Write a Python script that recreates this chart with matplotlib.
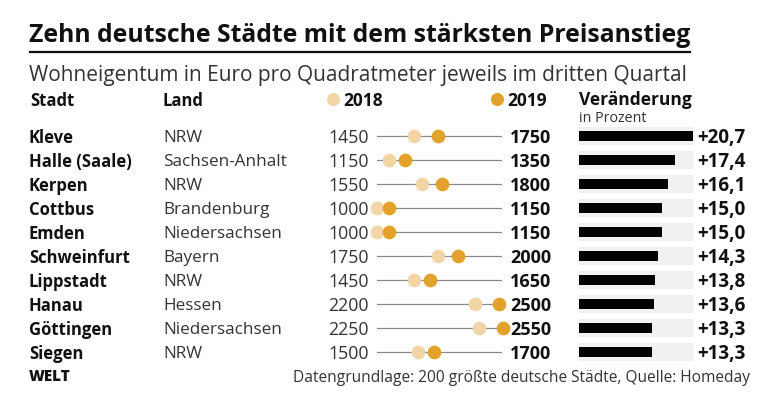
import matplotlib.pyplot as plt

plt.rcParams['font.family'] = ['Open Sans', 'DejaVu Sans']

staedte = ['Kleve', 'Halle (Saale)', 'Kerpen', 'Cottbus', 'Emden', 'Schweinfurt',
           'Lippstadt', 'Hanau', 'Göttingen', 'Siegen']
laender = ['NRW', 'Sachsen-Anhalt', 'NRW', 'Brandenburg', 'Niedersachsen', 'Bayern',
           'NRW', 'Hessen', 'Niedersachsen', 'NRW']
preis_2018 = [1450, 1150, 1550, 1000, 1000, 1750, 1450, 2200, 2250, 1500]
preis_2019 = [1750, 1350, 1800, 1150, 1150, 2000, 1650, 2500, 2550, 1700]
veraenderung = [20.7, 17.4, 16.1, 15.0, 15.0, 14.3, 13.8, 13.6, 13.3, 13.3]

W, H = 780, 404
c18 = '#f1d5a6'
c19 = '#e2a12b'

fig = plt.figure(figsize=(W / 100, H / 100), dpi=100)
fig.patch.set_facecolor('white')


def px(x, y):
    # Pixelkoordinaten -> Figurkoordinaten
    return x / W, 1 - y / H


def txt(x, y, s, **kw):
    # Open Sans sitzt mit va='center' etwas zu hoch
    fig.text(*px(x, y + 2), s, va='center', **kw)


txt(29, 33, 'Zehn deutsche Städte mit dem stärksten Preisanstieg', fontsize=17.8, weight='bold', color='#111111')
fig.add_artist(plt.Line2D([30 / W, 690 / W], [1 - 52 / H] * 2, color='#111111', lw=1.6))
txt(29, 74, 'Wohneigentum in Euro pro Quadratmeter jeweils im dritten Quartal', fontsize=15, color='#333333')

txt(30, 99, 'Stadt', fontsize=12, weight='bold', color='#111111')
txt(163, 99, 'Land', fontsize=12, weight='bold', color='#111111')
txt(343, 99, '2018', fontsize=12.5, weight='bold', color='#111111')
txt(507, 99, '2019', fontsize=12.5, weight='bold', color='#111111')
txt(579, 98, 'Veränderung', fontsize=12.5, weight='bold', color='#111111')
txt(579, 116, 'in Prozent', fontsize=10.3, color='#333333')

row0, step = 136, 24
n = len(staedte)

# Punktdiagramm
top = row0 - step / 2
ax = fig.add_axes([377 / W, 1 - (top + n * step) / H, 125 / W, n * step / H])
ax.set_xlim(1000, 2537)
ax.set_ylim(n - 0.5, -0.5)
ax.axis('off')
for i in range(n):
    ax.plot([1000, 2537], [i, i], color='#8a8a8a', lw=0.9, zorder=1)
ax.scatter(preis_2018, range(n), s=78, color=c18, zorder=2, clip_on=False)
ax.scatter(preis_2019, range(n), s=78, color=c19, zorder=3, clip_on=False)

# Legendenpunkte
leg = fig.add_axes([0, 0, 1, 1])
leg.set_xlim(0, W)
leg.set_ylim(H, 0)
leg.axis('off')
leg.scatter([333], [99], s=70, color=c18)
leg.scatter([497], [99], s=70, color=c19)

# Balken
bx = fig.add_axes([579 / W, 1 - (top + n * step) / H, 114 / W, n * step / H])
bx.set_xlim(0, max(veraenderung))
bx.set_ylim(n - 0.5, -0.5)
bx.axis('off')
bx.barh(range(n), [max(veraenderung)] * n, height=0.74, color='#f1f1f1')
bx.barh(range(n), veraenderung, height=0.42, color='black')

for i in range(n):
    y = row0 + i * step
    txt(29, y, staedte[i], fontsize=12, weight='bold', color='#111111')
    txt(163, y, laender[i], fontsize=12.3, color='#333333')
    txt(369, y, str(preis_2018[i]), fontsize=12.8, color='#333333', ha='right')
    txt(510, y, str(preis_2019[i]), fontsize=13, weight='bold', color='#111111')
    txt(697, y, '+' + f'{veraenderung[i]:.1f}'.replace('.', ','), fontsize=13.5, weight='bold', color='#111111')

txt(29, 375, 'WELT', fontsize=11, weight='heavy', color='#111111')
txt(750, 376, 'Datengrundlage: 200 größte deutsche Städte, Quelle: Homeday', fontsize=11.2,
    color='#333333', ha='right')

fig.savefig('out.png', dpi=100, facecolor='white')
